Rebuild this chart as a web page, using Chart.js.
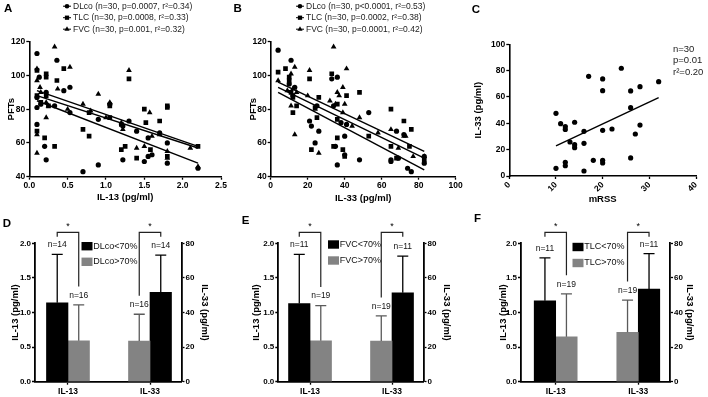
<!DOCTYPE html>
<html><head><meta charset="utf-8">
<script src="https://cdn.jsdelivr.net/npm/chart.js@4.4.1/dist/chart.umd.min.js"></script>
<style>
html,body{margin:0;padding:0;background:#fff;}
body{width:708px;height:397px;position:relative;overflow:hidden;}
canvas{position:absolute;}
</style></head><body>
<canvas id="cA"></canvas><canvas id="cB"></canvas><canvas id="cC"></canvas>
<canvas id="cD"></canvas><canvas id="cE"></canvas><canvas id="cF"></canvas>
<script>
const FONT = "'Liberation Sans', Arial, Helvetica, sans-serif";

// ===== Panel A: PFTs vs IL-13 (pg/ml) =====
const A_DLco = [[0.1,113],[0.1,87],[0.1,81],[0.1,71],[0.13,99],[0.15,83],[0.22,90],[0.2,58],[0.22,50],[0.36,109],[0.33,82],[0.45,91],[0.53,93],[0.53,78],[0.7,43],[0.9,74],[0.9,47],[1.05,83],[1.22,70],[1.22,50],[1.3,73],[1.4,67],[1.5,49],[1.55,63],[1.55,52],[1.6,53],[1.7,66],[1.8,60],[1.8,48],[2.2,45]];
const A_TLC = [[0.1,103],[0.1,88],[0.1,67],[0.2,63],[0.22,101],[0.22,99],[0.22,88],[0.15,84],[0.33,58],[0.36,97],[0.45,104],[0.7,68],[0.78,64],[0.78,78],[1.05,75],[1.2,56],[1.25,58],[1.3,98],[1.4,51],[1.5,80],[1.52,72],[1.58,56],[1.7,73],[1.8,82],[1.8,81],[1.8,52],[2.2,58],[0.25,82],[1.05,82],[1.2,71]];
const A_FVC = [[0.1,104],[0.1,97],[0.1,65],[0.1,54],[0.14,93],[0.22,84],[0.22,75],[0.33,117],[0.37,92],[0.53,105],[0.7,83],[0.9,89],[1.05,84],[1.22,68],[1.3,103],[1.4,57],[1.5,58],[1.57,78],[1.6,64],[1.7,65],[1.8,55],[1.8,51],[2.2,46],[0.25,82],[0.5,80],[0.8,79],[1.2,72],[1.0,75],[2.1,57],[0.15,90]];
const A_fitDLco = [[0.1,85],[2.2,48]];
const A_fitTLC = [[0.1,88],[2.2,57]];
const A_fitFVC = [[0.1,91],[2.2,58]];
const A_legend = ['DLco (n=30, p=0.0007, r\u00B2=0.34)','TLC (n=30, p=0.0008, r\u00B2=0.33)','FVC (n=30, p=0.001, r\u00B2=0.32)'];
const A_xTicks = [0,0.5,1,1.5,2,2.5];
const A_yTicks = [40,60,80,100,120];

// ===== Panel B: PFTs vs IL-33 (pg/ml) =====
const B_DLco = [[4,115],[11,109],[13,93],[12,88],[10,95],[21,73],[22,70],[24,60],[26,67],[25,82],[33,98],[36,99],[34,82],[35,58],[36,47],[38,72],[40,64],[41,71],[40,53],[48,50],[53,78],[65,50],[65,49],[68,67],[69,51],[72,65],[74,45],[76,43],[83,48],[83,52]];
const B_TLC = [[4,102],[8,104],[10,99],[10,97],[11,90],[12,87],[12,78],[14,82],[21,98],[22,56],[24,81],[25,75],[26,87],[33,101],[34,58],[36,74],[36,63],[36,83],[39,56],[40,52],[41,88],[48,90],[53,64],[65,80],[65,58],[68,51],[72,73],[75,58],[76,68],[83,50]];
const B_FVC = [[4,97],[9,91],[11,101],[11,82],[12,92],[13,105],[13,65],[14,90],[20,88],[21,103],[24,80],[26,54],[32,85],[34,117],[35,83],[36,90],[37,88],[39,93],[40,83],[39,78],[41,104],[44,70],[48,75],[58,66],[65,68],[69,57],[72,64],[73,64],[77,52],[83,52]];
const B_fitDLco = [[4,90],[83,44]];
const B_fitTLC = [[4,93],[83,51]];
const B_fitFVC = [[4,96],[83,55]];
const B_legend = ['DLco (n=30, p<0.0001, r\u00B2=0.53)','TLC (n=30, p=0.0002, r\u00B2=0.38)','FVC (n=30, p=0.0001, r\u00B2=0.42)'];
const B_xTicks = [0,20,40,60,80,100];
const B_yTicks = [40,60,80,100,120];

// ===== Panel C: IL-33 (pg/ml) vs mRSS =====
const C_points = [[10,47.6],[10,5.8],[11,39.7],[12,37.5],[12,35.4],[12,10.4],[12,7.8],[13,25.8],[14,40.8],[14,23.8],[14,21.5],[16,33.9],[16,24.8],[16,3.8],[17,75.7],[18,11.9],[20,73.7],[20,64.8],[20,34.7],[20,11.9],[20,9.9],[22,35.7],[24,81.8],[26,64.6],[26,51.9],[26,13.7],[27,31.9],[28,67.8],[28,38.7],[32,71.6]];
const C_fit = [[10,22.8],[32,59.5]];
const C_stats = ['n=30','p=0.01','r\u00B2=0.20'];
const C_xTicks = [0,10,20,30,40];
const C_yTicks = [0,20,40,60,80,100];

// ===== Bar panels (IL-13 on left axis, IL-33 on right axis) =====
const barCats = ['IL-13','IL-33'];
const il13Ticks = [0,0.5,1,1.5,2];
const il33Ticks = [0,20,40,60,80];
// D: DLco
const D_groups = ['DLco<70%','DLco>70%'];
const D_below = [1.14, 51.7], D_belowErr = [1.84, 73.2], D_belowN = [14, 14];
const D_above = [0.59, 23.5], D_aboveErr = [1.11, 39.0], D_aboveN = [16, 16];
// E: FVC
const E_groups = ['FVC<70%','FVC>70%'];
const E_below = [1.13, 51.4], E_belowErr = [1.84, 72.6], E_belowN = [11, 11];
const E_above = [0.59, 23.5], E_aboveErr = [1.10, 38.0], E_aboveN = [19, 19];
// F: TLC
const F_groups = ['TLC<70%','TLC>70%'];
const F_below = [1.17, 53.6], F_belowErr = [1.79, 74.0], F_belowN = [11, 11];
const F_above = [0.65, 28.6], F_aboveErr = [1.27, 47.2], F_aboveN = [19, 19];

// ---------- helpers ----------
const BLACK = '#000000', GRAY = '#838383';
function place(id, box){
  const c = document.getElementById(id);
  c.width = box.w; c.height = box.h;
  c.style.left = box.x + 'px'; c.style.top = box.y + 'px';
  c.style.width = box.w + 'px'; c.style.height = box.h + 'px';
  return c;
}
function fixedTicks(arr){ return s => { s.ticks = arr.map(v => ({value: v})); }; }
function marker(ctx, style, x, y, r){
  ctx.beginPath();
  if (style === 'circle') ctx.arc(x, y, r, 0, Math.PI*2);
  else if (style === 'rect') { const s = r*Math.SQRT1_2; ctx.rect(x-s, y-s, 2*s, 2*s); }
  else { ctx.moveTo(x, y-r); ctx.lineTo(x+r*0.866, y+r*0.5); ctx.lineTo(x-r*0.866, y+r*0.5); ctx.closePath(); }
  ctx.fill();
}
function letter(ctx, t, x, y){
  ctx.fillStyle = '#000'; ctx.font = 'bold 11.5px ' + FONT;
  ctx.textAlign = 'left'; ctx.textBaseline = 'alphabetic'; ctx.fillText(t, x, y);
}
function axisBase(tickSize, bw){
  return {
    border: {display: true, color: '#000', width: bw},
    grid: {display: true, drawOnChartArea: false, drawTicks: true, tickLength: 3, tickColor: '#000', tickWidth: 1.3, offset: false},
    ticks: {color: '#000', font: {family: FONT, size: tickSize, weight: 'bold'}, padding: 1, autoSkip: false}
  };
}
function titleOpt(text, size, pad){
  return {display: true, text: text, color: '#000', font: {family: FONT, size: size, weight: 'bold'}, padding: pad};
}

// ---------- scatter panels ----------
function scatterChart(id, box, area, cfg){
  const c = place(id, box);
  const styles = ['circle','rect','triangle'];
  const radii = [2.6, 3.3, 3.3];
  const ds = cfg.series.map((pts, i) => ({
    type: 'scatter', data: pts.map(p => ({x: p[0], y: p[1]})),
    pointStyle: cfg.styles ? cfg.styles[i] : styles[i], pointRadius: cfg.radii ? cfg.radii[i] : radii[i],
    pointBackgroundColor: '#000', pointBorderColor: '#000', pointBorderWidth: 0, showLine: false
  }));
  cfg.fits.forEach(f => ds.push({type: 'line', data: f.map(p => ({x: p[0], y: p[1]})), borderColor: '#000', borderWidth: 1.4, pointRadius: 0, showLine: true, fill: false, tension: 0}));
  const xa = axisBase(8.5, 1.6), ya = axisBase(8.5, 1.6);
  const xT = cfg.xTicks, yT = cfg.yTicks;
  Object.assign(xa, {type: 'linear', min: xT[0], max: xT[xT.length-1], offset: false,
    afterBuildTicks: fixedTicks(xT),
    afterFit: s => { s.height = box.y + box.h - area.b; s.paddingLeft = 0; s.paddingRight = 0; },
    title: titleOpt(cfg.xTitle, 9.5, {top: 0, bottom: cfg.xTitlePad})});
  xa.ticks.callback = cfg.xFmt;
  if (cfg.xRot) { xa.ticks.minRotation = cfg.xRot; xa.ticks.maxRotation = cfg.xRot; }
  Object.assign(ya, {type: 'linear', min: yT[0], max: yT[yT.length-1],
    afterBuildTicks: fixedTicks(yT),
    afterFit: s => { s.width = area.l - box.x; s.paddingTop = 0; s.paddingBottom = 0; },
    title: titleOpt(cfg.yTitle, 9.5, {top: cfg.yTitlePad, bottom: 0})});
  ya.ticks.callback = v => String(v);
  const overlay = {id: 'ov', afterDraw(chart){
    const ctx = chart.ctx; ctx.save(); ctx.translate(-box.x, -box.y);
    cfg.draw(ctx); ctx.restore();
  }};
  new Chart(c, {type: 'scatter', data: {datasets: ds}, options: {
    responsive: false, animation: false, events: [],
    layout: {padding: {left: 0, top: area.t - box.y, right: box.x + box.w - area.r, bottom: 0}},
    plugins: {legend: {display: false}, tooltip: {enabled: false}},
    scales: {x: xa, y: ya}
  }, plugins: [overlay]});
}

function scatterLegend(ctx, x, y0, dy, labels){
  const styles = ['circle','rect','triangle'];
  ctx.font = '8.5px ' + FONT; ctx.textAlign = 'left'; ctx.textBaseline = 'middle';
  labels.forEach((t, i) => {
    const y = y0 + i*dy;
    ctx.strokeStyle = '#000'; ctx.lineWidth = 1;
    ctx.beginPath(); ctx.moveTo(x-4, y); ctx.lineTo(x+4, y); ctx.stroke();
    ctx.fillStyle = '#000'; marker(ctx, styles[i], x, y, styles[i]==='circle' ? 2.3 : 3);
    ctx.fillStyle = '#222'; ctx.fillText(t, x + 6, y);
  });
}

scatterChart('cA', {x:0, y:0, w:232, h:212}, {l:29.3, t:41.7, r:221, b:176.7}, {
  series: [A_DLco, A_TLC, A_FVC], fits: [A_fitDLco, A_fitTLC, A_fitFVC],
  xTicks: A_xTicks, yTicks: A_yTicks, xFmt: v => v.toFixed(1),
  xTitle: 'IL-13 (pg/ml)', xTitlePad: 9, yTitle: 'PFTs', yTitlePad: 6,
  draw: ctx => { letter(ctx, 'A', 4, 11.7); scatterLegend(ctx, 67, 6.2, 11.5, A_legend); }
});
scatterChart('cB', {x:232, y:0, w:232, h:212}, {l:270.7, t:41.7, r:455.7, b:176.7}, {
  series: [B_DLco, B_TLC, B_FVC], fits: [B_fitDLco, B_fitTLC, B_fitFVC],
  xTicks: B_xTicks, yTicks: B_yTicks, xFmt: v => String(v),
  xTitle: 'IL-33 (pg/ml)', xTitlePad: 8, yTitle: 'PFTs', yTitlePad: 15.6,
  draw: ctx => { letter(ctx, 'B', 233.5, 11.7); scatterLegend(ctx, 300, 6.2, 11.5, B_legend); }
});
scatterChart('cC', {x:464, y:0, w:244, h:212}, {l:509.3, t:44.3, r:696, b:176}, {
  series: [C_points], styles: ['circle'], radii: [2.6], fits: [C_fit],
  xTicks: C_xTicks, yTicks: C_yTicks, xFmt: v => String(v), xRot: 45,
  xTitle: 'mRSS', xTitlePad: 7, yTitle: 'IL-33 (pg/ml)', yTitlePad: 8.3,
  draw: ctx => {
    letter(ctx, 'C', 471.7, 13.3);
    ctx.font = '9.5px ' + FONT; ctx.fillStyle = '#222'; ctx.textAlign = 'left'; ctx.textBaseline = 'middle';
    C_stats.forEach((t, i) => ctx.fillText(t, 673, 49.5 + i*11.3));
  }
});

// ---------- bar panels ----------
function barChart(id, box, area, xr, groups, below, belowErr, belowN, above, aboveErr, aboveN, legPos, let_){
  const c = place(id, box);
  const mk = (label, vals, col, axis, err, n) => ({
    label: label, data: [{x: 1, y: vals[0]}, {x: 2, y: vals[1]}], backgroundColor: col, borderWidth: 0,
    yAxisID: axis, barThickness: 21.5, skipNull: true, err: err, n: n, col: col
  });
  const ds = [
    mk(groups[0], [below[0], null], BLACK, 'y', [belowErr[0], null], [belowN[0], null]),
    mk(groups[1], [above[0], null], GRAY, 'y', [aboveErr[0], null], [aboveN[0], null]),
    mk(groups[1], [null, above[1]], GRAY, 'y2', [null, aboveErr[1]], [null, aboveN[1]]),
    mk(groups[0], [null, below[1]], BLACK, 'y2', [null, belowErr[1]], [null, belowN[1]])
  ];
  const xa = axisBase(8.5, 1.8), ya = axisBase(8, 1.8), y2 = axisBase(8, 1.8);
  Object.assign(xa, {type: 'linear', min: xr[0], max: xr[1], offset: false,
    afterBuildTicks: s => { s.ticks = barCats.map((t, i) => ({value: i + 1})); },
    afterFit: s => { s.height = box.y + box.h - area.b; s.paddingLeft = 0; s.paddingRight = 0; }});
  xa.ticks.callback = (v, i) => barCats[i];
  xa.ticks.padding = 1.5;
  Object.assign(ya, {type: 'linear', position: 'left', min: 0, max: 2,
    afterBuildTicks: fixedTicks(il13Ticks),
    afterFit: s => { s.width = area.l - box.x; s.paddingTop = 0; s.paddingBottom = 0; },
    title: titleOpt('IL-13 (pg/ml)', 9.5, {top: let_.yPad, bottom: 0})});
  ya.ticks.callback = v => v.toFixed(1);
  Object.assign(y2, {type: 'linear', position: 'right', min: 0, max: 80,
    afterBuildTicks: fixedTicks(il33Ticks),
    afterFit: s => { s.width = box.x + box.w - area.r; s.paddingTop = 0; s.paddingBottom = 0; },
    title: titleOpt('IL-33 (pg/ml)', 9.5, {top: let_.y2Pad, bottom: 0})});
  y2.ticks.callback = v => String(v);

  const capHalf = 5.5;
  const errPlugin = {id: 'err', afterDatasetsDraw(chart){
    const ctx = chart.ctx;
    const info = [];
    chart.data.datasets.forEach((d, i) => {
      const meta = chart.getDatasetMeta(i), sc = chart.scales[d.yAxisID];
      meta.data.forEach((el, j) => {
        if (d.err[j] == null) return;
        const yT = sc.getPixelForValue(d.err[j]);
        ctx.save();
        ctx.strokeStyle = d.col === GRAY ? '#5a5a5a' : '#000'; ctx.lineWidth = 1.3;
        ctx.beginPath(); ctx.moveTo(el.x, el.y); ctx.lineTo(el.x, yT);
        ctx.moveTo(el.x - capHalf, yT); ctx.lineTo(el.x + capHalf, yT); ctx.stroke();
        const ny = yT - 9.5;
        ctx.fillStyle = '#111'; ctx.font = '8.5px ' + FONT; ctx.textAlign = 'center'; ctx.textBaseline = 'middle';
        ctx.fillText('n=' + d.n[j], el.x, ny);
        ctx.restore();
        info.push({cat: j, x: el.x, gray: d.col === GRAY, ny: ny});
      });
    });
    // significance brackets
    const top = chart.chartArea.top - 11;
    [0, 1].forEach(cat => {
      const pair = info.filter(o => o.cat === cat).sort((a, b) => a.x - b.x);
      if (pair.length < 2) return;
      const leg = o => o.gray ? o.ny - 9 : top + 4.5;
      ctx.save(); ctx.strokeStyle = '#222'; ctx.lineWidth = 1.2;
      ctx.beginPath();
      ctx.moveTo(pair[0].x, leg(pair[0])); ctx.lineTo(pair[0].x, top);
      ctx.lineTo(pair[1].x, top); ctx.lineTo(pair[1].x, leg(pair[1]));
      ctx.stroke();
      ctx.fillStyle = '#000'; ctx.font = '9px ' + FONT; ctx.textAlign = 'center'; ctx.textBaseline = 'middle';
      ctx.fillText('*', (pair[0].x + pair[1].x)/2, top - 6);
      ctx.restore();
    });
  }};
  const overlay = {id: 'ov', afterDraw(chart){
    const ctx = chart.ctx; ctx.save(); ctx.translate(-box.x, -box.y);
    letter(ctx, let_.t, let_.x, let_.y);
    ctx.font = '9px ' + FONT; ctx.textAlign = 'left'; ctx.textBaseline = 'middle';
    [BLACK, GRAY].forEach((col, i) => {
      const y = legPos.y[i];
      ctx.fillStyle = col; ctx.fillRect(legPos.x, y - 4.2, 11, 8.4);
      ctx.fillStyle = '#111'; ctx.fillText(groups[i], legPos.x + 11.8, y);
    });
    ctx.restore();
  }};
  new Chart(c, {type: 'bar', data: {datasets: ds}, options: {
    responsive: false, animation: false, events: [],
    layout: {padding: {left: 0, top: area.t - box.y, right: 0, bottom: 0}},
    plugins: {legend: {display: false}, tooltip: {enabled: false}},
    scales: {x: xa, y: ya, y2: y2}
  }, plugins: [errPlugin, overlay]});
}

barChart('cD', {x:0, y:212, w:236, h:185}, {l:35, t:243.3, r:181.5, b:381.7}, [0.598, 2.384],
  D_groups, D_below, D_belowErr, D_belowN, D_above, D_aboveErr, D_aboveN,
  {x: 81.5, y: [246.2, 261.8]}, {t: 'D', x: 2.7, y: 226.7, yPad: 9.3, y2Pad: 25.3});
barChart('cE', {x:236, y:212, w:236, h:185}, {l:278.3, t:243.3, r:423.5, b:381.7}, [0.613, 2.384],
  E_groups, E_below, E_belowErr, E_belowN, E_above, E_aboveErr, E_aboveN,
  {x: 328, y: [244.5, 260.5]}, {t: 'E', x: 241.7, y: 224, yPad: 15, y2Pad: 19.6});
barChart('cF', {x:472, y:212, w:236, h:185}, {l:521, t:243.3, r:670, b:381.7}, [0.58, 2.384],
  F_groups, F_below, F_belowErr, F_belowN, F_above, F_aboveErr, F_aboveN,
  {x: 572.5, y: [247, 263]}, {t: 'F', x: 474, y: 221.7, yPad: 25.6, y2Pad: 12.3});
</script>
</body></html>
